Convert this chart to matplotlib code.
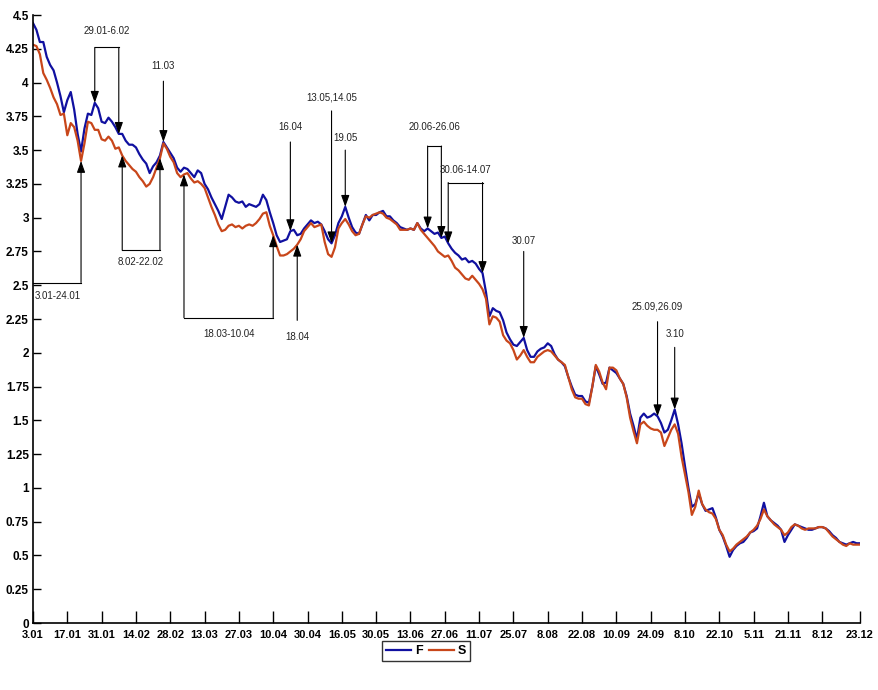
from matplotlib import pyplot as plt
import numpy as np

# daily closing values, trading days 3.01 .. 23.12
F = [4.44, 4.39, 4.30, 4.30, 4.19, 4.13, 4.09, 4.00, 3.90, 3.78,
     3.87, 3.93, 3.80, 3.62, 3.49, 3.66, 3.77, 3.76, 3.85, 3.81,
     3.71, 3.70, 3.74, 3.71, 3.67, 3.62, 3.62, 3.57, 3.54, 3.54,
     3.52, 3.47, 3.43, 3.40, 3.33, 3.38, 3.41, 3.46, 3.56, 3.52,
     3.48, 3.44, 3.37, 3.34, 3.37, 3.36, 3.33, 3.30, 3.35, 3.33,
     3.25, 3.21, 3.15, 3.10, 3.05, 2.99, 3.08, 3.17, 3.15, 3.12,
     3.11, 3.12, 3.08, 3.10, 3.09, 3.08, 3.10, 3.17, 3.13, 3.04,
     2.96, 2.87, 2.82, 2.83, 2.84, 2.90, 2.91, 2.87, 2.88, 2.92,
     2.95, 2.98, 2.96, 2.97, 2.95, 2.90, 2.84, 2.81, 2.87, 2.96,
     3.01, 3.08, 3.00, 2.93, 2.89, 2.88, 2.95, 3.02, 2.98, 3.02,
     3.02, 3.04, 3.05, 3.01, 3.01, 2.98, 2.96, 2.93, 2.92, 2.91,
     2.92, 2.91, 2.96, 2.92, 2.90, 2.92, 2.90, 2.88, 2.89, 2.85,
     2.86, 2.81, 2.77, 2.74, 2.72, 2.69, 2.70, 2.67, 2.68, 2.66,
     2.62, 2.59, 2.45, 2.27, 2.33, 2.31, 2.30, 2.24, 2.15, 2.10,
     2.06, 2.05, 2.08, 2.11, 2.02, 1.97, 1.97, 2.01, 2.03, 2.04,
     2.07, 2.05, 1.99, 1.95, 1.93, 1.90, 1.82, 1.75, 1.69, 1.68,
     1.68, 1.64, 1.63, 1.75, 1.90, 1.84, 1.77, 1.78, 1.89, 1.87,
     1.85, 1.81, 1.77, 1.68, 1.55, 1.46, 1.36, 1.52, 1.55, 1.52,
     1.53, 1.55, 1.53, 1.48, 1.41, 1.43, 1.50, 1.58, 1.47, 1.33,
     1.16, 1.00, 0.86, 0.88, 0.96, 0.88, 0.83, 0.84, 0.85, 0.78,
     0.69, 0.64, 0.57, 0.49, 0.54, 0.57, 0.59, 0.60, 0.63, 0.67,
     0.68, 0.70, 0.79, 0.89, 0.79, 0.76, 0.74, 0.72, 0.69, 0.60,
     0.65, 0.69, 0.73, 0.72, 0.71, 0.70, 0.69, 0.69, 0.70, 0.71,
     0.71, 0.70, 0.68, 0.65, 0.63, 0.60, 0.59, 0.58, 0.59, 0.60,
     0.59, 0.59]
S = [4.28, 4.27, 4.21, 4.07, 4.02, 3.96, 3.89, 3.84, 3.76, 3.77,
     3.61, 3.70, 3.67, 3.57, 3.42, 3.55, 3.71, 3.70, 3.65, 3.65,
     3.58, 3.57, 3.60, 3.57, 3.51, 3.52, 3.46, 3.42, 3.39, 3.36,
     3.34, 3.30, 3.27, 3.23, 3.25, 3.30, 3.37, 3.44, 3.55, 3.51,
     3.45, 3.41, 3.33, 3.30, 3.32, 3.33, 3.29, 3.26, 3.27, 3.25,
     3.22, 3.15, 3.08, 3.02, 2.95, 2.90, 2.91, 2.94, 2.95, 2.93,
     2.94, 2.92, 2.94, 2.95, 2.94, 2.96, 2.99, 3.03, 3.04, 2.94,
     2.87, 2.79, 2.72, 2.72, 2.73, 2.75, 2.77, 2.80, 2.84, 2.90,
     2.93, 2.96, 2.93, 2.94, 2.95, 2.82, 2.73, 2.71, 2.78, 2.92,
     2.96, 2.99, 2.95, 2.90, 2.87, 2.88, 2.95, 3.01, 3.00, 3.02,
     3.03, 3.04, 3.03, 3.00, 2.99, 2.97, 2.95, 2.91, 2.91, 2.91,
     2.92, 2.91, 2.96, 2.91, 2.88, 2.85, 2.82, 2.79, 2.75, 2.73,
     2.71, 2.72, 2.68, 2.63, 2.61, 2.58, 2.55, 2.54, 2.57, 2.54,
     2.51, 2.47, 2.40, 2.21, 2.27, 2.26, 2.23, 2.13, 2.09, 2.07,
     2.02, 1.95, 1.98, 2.02, 1.97, 1.93, 1.93, 1.97, 1.99, 2.01,
     2.02, 2.01, 1.98, 1.95, 1.93, 1.91, 1.82, 1.73, 1.67, 1.66,
     1.66, 1.62, 1.61, 1.75, 1.91, 1.86, 1.78, 1.73, 1.89, 1.89,
     1.87, 1.81, 1.77, 1.67, 1.52, 1.42, 1.33, 1.47, 1.49, 1.46,
     1.44, 1.43, 1.43, 1.41, 1.31, 1.37, 1.43, 1.47, 1.40, 1.23,
     1.10, 0.97, 0.80, 0.86, 0.98, 0.88, 0.84, 0.82, 0.81, 0.77,
     0.69, 0.65, 0.58, 0.53, 0.55, 0.58, 0.60, 0.62, 0.64, 0.67,
     0.69, 0.72, 0.77, 0.84, 0.79, 0.76, 0.73, 0.71, 0.69, 0.65,
     0.67, 0.71, 0.73, 0.72, 0.70, 0.69, 0.70, 0.70, 0.70, 0.71,
     0.71, 0.70, 0.67, 0.64, 0.62, 0.60, 0.58, 0.57, 0.59, 0.58,
     0.58, 0.58]

xticks = list(range(0, 240, 10)) + [241]
xlabels = ['3.01', '17.01', '31.01', '14.02', '28.02', '13.03', '27.03', '10.04',
           '30.04', '16.05', '30.05', '13.06', '27.06', '11.07', '25.07', '8.08',
           '22.08', '10.09', '24.09', '8.10', '22.10', '5.11', '21.11', '8.12', '23.12']
yticks = np.arange(0, 4.51, 0.25)
ylabels = ['0', '0.25', '0.5', '0.75', '1', '1.25', '1.5', '1.75', '2', '2.25',
           '2.5', '2.75', '3', '3.25', '3.5', '3.75', '4', '4.25', '4.5']

# single-date events: (label, day, series, arrow start, text y)
single = [('11.03', 38, 'F', 4.01, 4.12),
          ('16.04', 75, 'F', 3.56, 3.67),
          ('18.04', 77, 'S', 2.24, 2.12),
          ('13.05,14.05', 87, 'F', 3.79, 3.89),
          ('19.05', 91, 'F', 3.50, 3.59),
          ('30.07', 143, 'F', 2.75, 2.83),
          ('25.09,26.09', 182, 'F', 2.23, 2.34),
          ('3.10', 187, 'F', 2.04, 2.14)]
# periods: (label, first day, last day, series, bracket level, text y)
periods = [('29.01-6.02', 18, 25, 'F', 4.26, 4.38),
           ('8.02-22.02', 26, 37, 'S', 2.76, 2.67),
           ('18.03-10.04', 44, 70, 'S', 2.26, 2.14),
           ('20.06-26.06', 115, 119, 'F', 3.53, 3.67),
           ('30.06-14.07', 121, 131, 'F', 3.26, 3.35)]

plt.rcParams['font.family'] = ['Liberation Sans', 'DejaVu Sans']

series = {'F': F, 'S': S}
t = np.arange(len(F))

fig = plt.figure(figsize=(8.79, 6.90), dpi=100)
ax = fig.add_axes([33/879, 67/690, 827/879, 608/690])
ax.plot(t, F, color='#1010a0', lw=1.6, label='F')
ax.plot(t, S, color='#c8461a', lw=1.6, label='S')

ax.set_xlim(0, 241)
ax.set_ylim(0, 4.5)
ax.set_xticks(xticks)
ax.set_xticklabels(xlabels, fontweight='bold', fontsize=8)
ax.set_yticks(yticks)
ax.set_yticklabels(ylabels, fontweight='bold', fontsize=8.5)
ax.tick_params(axis='x', direction='in', length=9, width=1, pad=5)
ax.tick_params(axis='y', direction='in', length=6, width=1, pad=3)
for s in ['top', 'right']:
    ax.spines[s].set_visible(False)
for s in ['left', 'bottom']:
    ax.spines[s].set_linewidth(1.2)

ap = dict(arrowstyle='-|>,head_length=0.7,head_width=0.25', color='black',
          lw=0.8, shrinkA=0, shrinkB=0)
tfont = dict(ha='center', va='center', fontsize=7, color='#222222')


def arrow(day, name, start):
    ax.annotate('', xy=(day, series[name][day]), xytext=(day, start),
                arrowprops=ap)


for label, day, name, start, ty in single:
    arrow(day, name, start)
    ax.text(day, ty, label, **tfont)

for label, d1, d2, name, level, ty in periods:
    arrow(d1, name, level)
    arrow(d2, name, level)
    ax.plot([d1, d2], [level, level], color='black', lw=0.8)
    ax.text((d1 + d2) / 2, ty, label, **tfont)

# first period starts at the left edge of the plot
arrow(14, 'S', 2.52)
ax.plot([0, 14], [2.52, 2.52], color='black', lw=0.8, clip_on=False)
ax.text(7.3, 2.42, '3.01-24.01', **tfont)

leg = fig.legend(loc='center', bbox_to_anchor=(426/879, 1 - 651/690), ncol=2,
                 fancybox=False, edgecolor='black', handlelength=2.0,
                 handletextpad=0.3, columnspacing=0.5, borderpad=0.3,
                 borderaxespad=0, prop={'weight': 'bold', 'size': 9})
leg.get_frame().set_linewidth(1.0)

plt.savefig('out.png', dpi=100)
